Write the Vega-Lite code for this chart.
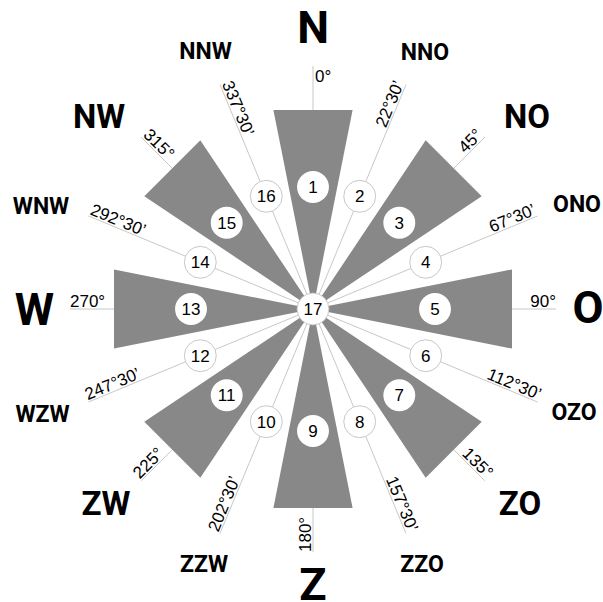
{
  "$schema": "https://vega.github.io/schema/vega-lite/v6.json",
  "width": 603,
  "height": 602,
  "padding": 0,
  "autosize": {"type": "none"},
  "background": "white",
  "config": {"view": {"stroke": null}, "axis": {"disable": true}, "legend": {"disable": true}},
  "resolve": {"scale": {"angle": "independent"}},
  "datasets": {
    "dirs": [
      {"deg": 0, "x": 0, "y": 243, "t": "0°"},
      {"deg": 22.5, "x": 93.0, "y": 224.5, "t": "22°30’"},
      {"deg": 45, "x": 171.8, "y": 171.8, "t": "45°"},
      {"deg": 67.5, "x": 224.5, "y": 93.0, "t": "67°30’"},
      {"deg": 90, "x": 243, "y": 0, "t": "90°"},
      {"deg": 112.5, "x": 224.5, "y": -93.0, "t": "112°30’"},
      {"deg": 135, "x": 171.8, "y": -171.8, "t": "135°"},
      {"deg": 157.5, "x": 93.0, "y": -224.5, "t": "157°30’"},
      {"deg": 180, "x": 0, "y": -243, "t": "180°"},
      {"deg": 202.5, "x": -93.0, "y": -224.5, "t": "202°30’"},
      {"deg": 225, "x": -171.8, "y": -171.8, "t": "225°"},
      {"deg": 247.5, "x": -224.5, "y": -93.0, "t": "247°30’"},
      {"deg": 270, "x": -243, "y": 0, "t": "270°"},
      {"deg": 292.5, "x": -224.5, "y": 93.0, "t": "292°30’"},
      {"deg": 315, "x": -171.8, "y": 171.8, "t": "315°"},
      {"deg": 337.5, "x": -93.0, "y": 224.5, "t": "337°30’"}
    ],
    "wedges": [
      {"w": 1, "o": 0, "x": 0, "y": 0}, {"w": 1, "o": 1, "x": -39.6, "y": 199}, {"w": 1, "o": 2, "x": 39.6, "y": 199},
      {"w": 3, "o": 0, "x": 0, "y": 0}, {"w": 3, "o": 1, "x": 112.7, "y": 168.7}, {"w": 3, "o": 2, "x": 168.7, "y": 112.7},
      {"w": 5, "o": 0, "x": 0, "y": 0}, {"w": 5, "o": 1, "x": 199, "y": 39.6}, {"w": 5, "o": 2, "x": 199, "y": -39.6},
      {"w": 7, "o": 0, "x": 0, "y": 0}, {"w": 7, "o": 1, "x": 168.7, "y": -112.7}, {"w": 7, "o": 2, "x": 112.7, "y": -168.7},
      {"w": 9, "o": 0, "x": 0, "y": 0}, {"w": 9, "o": 1, "x": 39.6, "y": -199}, {"w": 9, "o": 2, "x": -39.6, "y": -199},
      {"w": 11, "o": 0, "x": 0, "y": 0}, {"w": 11, "o": 1, "x": -112.7, "y": -168.7}, {"w": 11, "o": 2, "x": -168.7, "y": -112.7},
      {"w": 13, "o": 0, "x": 0, "y": 0}, {"w": 13, "o": 1, "x": -199, "y": -39.6}, {"w": 13, "o": 2, "x": -199, "y": 39.6},
      {"w": 15, "o": 0, "x": 0, "y": 0}, {"w": 15, "o": 1, "x": -168.7, "y": 112.7}, {"w": 15, "o": 2, "x": -112.7, "y": 168.7}
    ],
    "nums": [
      {"n": 1, "x": 0, "y": 122}, {"n": 2, "x": 46.7, "y": 112.7}, {"n": 3, "x": 86.3, "y": 86.3},
      {"n": 4, "x": 112.7, "y": 46.7}, {"n": 5, "x": 122, "y": 0}, {"n": 6, "x": 112.7, "y": -46.7},
      {"n": 7, "x": 86.3, "y": -86.3}, {"n": 8, "x": 46.7, "y": -112.7}, {"n": 9, "x": 0, "y": -122},
      {"n": 10, "x": -46.7, "y": -112.7}, {"n": 11, "x": -86.3, "y": -86.3}, {"n": 12, "x": -112.7, "y": -46.7},
      {"n": 13, "x": -122, "y": 0}, {"n": 14, "x": -112.7, "y": 46.7}, {"n": 15, "x": -86.3, "y": 86.3},
      {"n": 16, "x": -46.7, "y": 112.7}, {"n": 17, "x": 0, "y": 0}
    ],
    "names": [
      {"name": "N", "rank": 1, "x": 0, "y": 280},
      {"name": "NNO", "rank": 3, "x": 112, "y": 256},
      {"name": "NO", "rank": 2, "x": 214, "y": 191.5},
      {"name": "ONO", "rank": 3, "x": 264, "y": 104},
      {"name": "O", "rank": 1, "x": 275, "y": 0},
      {"name": "OZO", "rank": 3, "x": 261, "y": -104},
      {"name": "ZO", "rank": 2, "x": 207, "y": -195.5},
      {"name": "ZZO", "rank": 3, "x": 109, "y": -256},
      {"name": "Z", "rank": 1, "x": 0, "y": -277},
      {"name": "ZZW", "rank": 3, "x": -109, "y": -256},
      {"name": "ZW", "rank": 2, "x": -207, "y": -195.5},
      {"name": "WZW", "rank": 3, "x": -270.5, "y": -106},
      {"name": "W", "rank": 1, "x": -278.5, "y": -2},
      {"name": "WNW", "rank": 3, "x": -272, "y": 102},
      {"name": "NW", "rank": 2, "x": -214, "y": 191.5},
      {"name": "NNW", "rank": 3, "x": -107.5, "y": 257.5}
    ]
  },
  "layer": [
    {
      "data": {"name": "dirs"},
      "mark": {"type": "rule", "color": "#c8c8c8", "strokeWidth": 1},
      "encoding": {
        "x": {"field": "x", "type": "quantitative", "scale": {"domain": [-313, 290], "nice": false, "zero": false}},
        "y": {"field": "y", "type": "quantitative", "scale": {"domain": [-293, 309], "nice": false, "zero": false}},
        "x2": {"datum": 0},
        "y2": {"datum": 0}
      }
    },
    {
      "data": {"name": "wedges"},
      "mark": {"type": "line", "fill": "#888888", "color": "#888888", "strokeWidth": 0, "interpolate": "linear"},
      "encoding": {
        "x": {"field": "x", "type": "quantitative", "scale": {"domain": [-313, 290], "nice": false, "zero": false}},
        "y": {"field": "y", "type": "quantitative", "scale": {"domain": [-293, 309], "nice": false, "zero": false}},
        "detail": {"field": "w", "type": "nominal"},
        "order": {"field": "o", "type": "quantitative"}
      }
    },
    {
      "data": {"name": "nums"},
      "transform": [{"filter": "datum.n % 2 == 1 && datum.n != 17"}],
      "mark": {"type": "point", "shape": "circle", "size": 1018, "filled": true, "fill": "white", "opacity": 1, "strokeWidth": 0},
      "encoding": {
        "x": {"field": "x", "type": "quantitative", "scale": {"domain": [-313, 290], "nice": false, "zero": false}},
        "y": {"field": "y", "type": "quantitative", "scale": {"domain": [-293, 309], "nice": false, "zero": false}}
      }
    },
    {
      "data": {"name": "nums"},
      "transform": [{"filter": "datum.n % 2 == 0 || datum.n == 17"}],
      "mark": {"type": "point", "shape": "circle", "size": 1018, "filled": false, "fill": "white", "fillOpacity": 1, "stroke": "#c8c8c8", "strokeWidth": 1, "opacity": 1},
      "encoding": {
        "x": {"field": "x", "type": "quantitative", "scale": {"domain": [-313, 290], "nice": false, "zero": false}},
        "y": {"field": "y", "type": "quantitative", "scale": {"domain": [-293, 309], "nice": false, "zero": false}}
      }
    },
    {
      "data": {"name": "nums"},
      "mark": {"type": "text", "font": "Liberation Sans", "fontSize": 17, "color": "black", "align": "center", "baseline": "middle", "dy": 1},
      "encoding": {
        "x": {"field": "x", "type": "quantitative", "scale": {"domain": [-313, 290], "nice": false, "zero": false}},
        "y": {"field": "y", "type": "quantitative", "scale": {"domain": [-293, 309], "nice": false, "zero": false}},
        "text": {"field": "n", "type": "nominal"}
      }
    },
    {
      "data": {"name": "dirs"},
      "transform": [{"filter": "datum.deg > 0 && datum.deg < 180"}],
      "mark": {"type": "text", "font": "Liberation Sans", "fontSize": 17, "color": "black", "align": "right", "baseline": "alphabetic", "dy": -2},
      "encoding": {
        "x": {"field": "x", "type": "quantitative", "scale": {"domain": [-313, 290], "nice": false, "zero": false}},
        "y": {"field": "y", "type": "quantitative", "scale": {"domain": [-293, 309], "nice": false, "zero": false}},
        "angle": {"field": "deg", "type": "quantitative", "scale": {"domain": [0, 180], "range": [-90, 90], "zero": false, "nice": false}},
        "text": {"field": "t", "type": "nominal"}
      }
    },
    {
      "data": {"name": "dirs"},
      "transform": [{"filter": "datum.deg >= 180"}],
      "mark": {"type": "text", "font": "Liberation Sans", "fontSize": 17, "color": "black", "align": "left", "baseline": "alphabetic", "dy": -2},
      "encoding": {
        "x": {"field": "x", "type": "quantitative", "scale": {"domain": [-313, 290], "nice": false, "zero": false}},
        "y": {"field": "y", "type": "quantitative", "scale": {"domain": [-293, 309], "nice": false, "zero": false}},
        "angle": {"field": "deg", "type": "quantitative", "scale": {"domain": [180, 360], "range": [-90, 90], "zero": false, "nice": false}},
        "text": {"field": "t", "type": "nominal"}
      }
    },
    {
      "data": {"name": "dirs"},
      "transform": [{"filter": "datum.deg == 0"}],
      "mark": {"type": "text", "font": "Liberation Sans", "fontSize": 17, "color": "black", "align": "left", "baseline": "top", "dx": 2, "dy": 3},
      "encoding": {
        "x": {"field": "x", "type": "quantitative", "scale": {"domain": [-313, 290], "nice": false, "zero": false}},
        "y": {"field": "y", "type": "quantitative", "scale": {"domain": [-293, 309], "nice": false, "zero": false}},
        "text": {"field": "t", "type": "nominal"}
      }
    },
    {
      "data": {"name": "names"},
      "transform": [{"filter": "datum.rank == 1"}],
      "mark": {"type": "text", "font": "Roboto", "fontWeight": "bold", "fontSize": 45, "color": "black", "align": "center", "baseline": "middle"},
      "encoding": {
        "x": {"field": "x", "type": "quantitative", "scale": {"domain": [-313, 290], "nice": false, "zero": false}},
        "y": {"field": "y", "type": "quantitative", "scale": {"domain": [-293, 309], "nice": false, "zero": false}},
        "text": {"field": "name", "type": "nominal"}
      }
    },
    {
      "data": {"name": "names"},
      "transform": [{"filter": "datum.rank == 2"}],
      "mark": {"type": "text", "font": "Roboto", "fontWeight": "bold", "fontSize": 33, "color": "black", "align": "center", "baseline": "middle"},
      "encoding": {
        "x": {"field": "x", "type": "quantitative", "scale": {"domain": [-313, 290], "nice": false, "zero": false}},
        "y": {"field": "y", "type": "quantitative", "scale": {"domain": [-293, 309], "nice": false, "zero": false}},
        "text": {"field": "name", "type": "nominal"}
      }
    },
    {
      "data": {"name": "names"},
      "transform": [{"filter": "datum.rank == 3"}],
      "mark": {"type": "text", "font": "Roboto", "fontWeight": "bold", "fontSize": 23, "color": "black", "align": "center", "baseline": "middle"},
      "encoding": {
        "x": {"field": "x", "type": "quantitative", "scale": {"domain": [-313, 290], "nice": false, "zero": false}},
        "y": {"field": "y", "type": "quantitative", "scale": {"domain": [-293, 309], "nice": false, "zero": false}},
        "text": {"field": "name", "type": "nominal"}
      }
    }
  ]
}
